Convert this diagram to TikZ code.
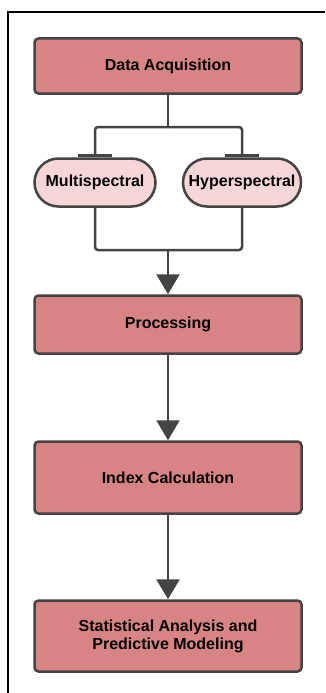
\documentclass[tikz,border=0pt]{standalone}
\usepackage{fontspec}
\setmainfont{Liberation Sans}
\usepackage{tikz}
\usetikzlibrary{arrows.meta}
\usepackage{xcolor}

\definecolor{boxred}{RGB}{217,132,132}
\definecolor{pillpink}{RGB}{246,214,214}
\definecolor{linegray}{RGB}{68,68,68}

\begin{document}
\begin{tikzpicture}[x=1pt, y=-1pt]
        % ================= 样式定义 =================
        \tikzset{
            % 主流程方框:红底深灰边
            stepbox/.style={rectangle, rounded corners=4pt, draw=linegray, line width=2.5pt, fill=boxred,
                minimum width=267pt, inner sep=0pt, align=center,
                font=\fontsize{16}{18}\selectfont\bfseries},
            % 数据类型:胶囊形
            pill/.style={rectangle, rounded corners=24pt, draw=linegray, line width=2.5pt, fill=pillpink,
                minimum height=48pt, inner sep=0pt, font=\fontsize{16}{18}\selectfont\bfseries},
            % 连线
            conn/.style={draw=linegray, line width=2.5pt, rounded corners=3pt},
            flow/.style={conn, -{Triangle[width=23pt, length=20pt]}},
            tee/.style={conn, -{Bar[width=34pt, line width=3.5pt]}}
        }

        % 画布大小及外框(只露出左边和上边)
        \useasboundingbox (0,0) rectangle (325,693);
        \coordinate (fbl) at (8,693);
        \coordinate (ftl) at (8,12);
        \coordinate (ftr) at (325,12);
        \draw[black, line width=1.5pt] (fbl) -- (ftl) -- (ftr);

        % ================= 节点 =================
        \node[stepbox, minimum height=55pt] (acq) at (168,66) {Data Acquisition};
        \node[pill, minimum width=121pt] (multi) at (95,182.5) {Multispectral};
        \node[pill, minimum width=118pt] (hyper) at (242,182.5) {Hyperspectral};
        \node[stepbox, minimum height=58pt] (proc) at (168,324.5) {Processing};
        \node[stepbox, minimum height=72pt] (index) at (168,477.5) {Index Calculation};
        \node[stepbox, minimum height=71pt] (stat) at (168,636) {Statistical Analysis and\\Predictive Modeling};

        % 分叉点与汇合点
        \coordinate (split) at (168,127);
        \coordinate (merge) at (168,250);

        % ================= 连线 =================
        \draw[conn] (acq.south) -- (split);
        \draw[tee] (split) -| (multi.north);
        \draw[tee] (split) -| (hyper.north);

        \draw[conn] (multi.south) |- (merge);
        \draw[conn] (hyper.south) |- (merge);
        \draw[flow] (merge) -- (proc.north);

        \draw[flow] (proc.south) -- (index.north);
        \draw[flow] (index.south) -- (stat.north);

    \end{tikzpicture}
\end{document}
